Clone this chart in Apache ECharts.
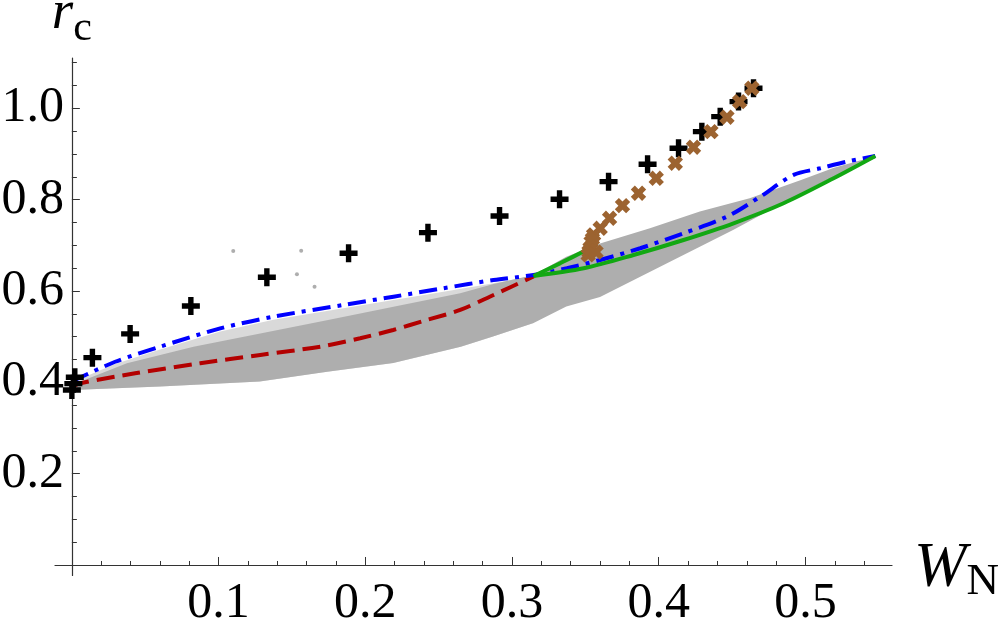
<!DOCTYPE html>
<html>
<head>
<meta charset="utf-8">
<script src="https://cdn.jsdelivr.net/npm/echarts@6/dist/echarts.min.js"></script>
<style>
  html, body { margin: 0; padding: 0; background: #fff; }
  #chart { width: 1000px; height: 621px; }
</style>
</head>
<body>
<div id="chart"></div>
<script>
// tick positions
const xMajorTicks = [0.1, 0.2, 0.3, 0.4, 0.5];
const xMinorTicks = [0.02, 0.04, 0.06, 0.08, 0.12, 0.14, 0.16, 0.18, 0.22, 0.24, 0.26, 0.28,
  0.32, 0.34, 0.36, 0.38, 0.42, 0.44, 0.46, 0.48, 0.52, 0.54];
const yMajorTicks = [0.2, 0.4, 0.6, 0.8, 1.0];
const yMinorTicks = [0.05, 0.1, 0.15, 0.25, 0.3, 0.35, 0.45, 0.5, 0.55, 0.65, 0.7, 0.75,
  0.85, 0.9, 0.95, 1.05, 1.1];

// black "+" markers
const plusPoints = [[0, 0.383], [0.001, 0.397], [0.002, 0.411], [0.014, 0.454], [0.0397, 0.506],
  [0.0811, 0.567], [0.1329, 0.630], [0.1886, 0.6825], [0.2427, 0.7276], [0.2915, 0.7642],
  [0.3324, 0.8007], [0.3658, 0.8393], [0.3924, 0.8774], [0.4135, 0.9124], [0.4294, 0.9488],
  [0.4419, 0.9816], [0.4544, 1.0145], [0.4646, 1.0438]];

// brown "x" markers
const crossPoints = [[0.3519, 0.679], [0.3525, 0.686], [0.3532, 0.694], [0.3573, 0.685],
  [0.3539, 0.707], [0.3548, 0.714], [0.3556, 0.7226], [0.3601, 0.7372], [0.3665, 0.7591],
  [0.3753, 0.7867], [0.3862, 0.8139], [0.3983, 0.8467], [0.4113, 0.8796], [0.4237, 0.9146],
  [0.4356, 0.9488], [0.4465, 0.9803], [0.4551, 1.0145], [0.4635, 1.0438]];

// curves
const redDashed = [[0, 0.390], [0.0057, 0.398], [0.0431, 0.4197], [0.0875, 0.4417], [0.1284, 0.4598],
  [0.1693, 0.478], [0.1965, 0.4964], [0.219, 0.5146], [0.242, 0.5365], [0.2647, 0.5584],
  [0.2874, 0.5912], [0.3147, 0.6317]];
const blueDashDot = [[0, 0.402], [0.0295, 0.445], [0.0602, 0.478], [0.1011, 0.518], [0.1374, 0.5437],
  [0.1851, 0.5693], [0.2192, 0.5875], [0.2533, 0.6059], [0.2874, 0.624], [0.3147, 0.635],
  [0.3374, 0.6497], [0.3601, 0.6678], [0.3874, 0.6935], [0.4169, 0.7263], [0.4465, 0.7627],
  [0.4692, 0.8064], [0.4919, 0.854], [0.5101, 0.8686], [0.5283, 0.8831], [0.5476, 0.8955]];
const greenUpper = [[0.3147, 0.6328], [0.333, 0.661], [0.351, 0.690]];
const greenLower = [[0.3147, 0.6328], [0.3488, 0.6497], [0.3828, 0.6788], [0.4169, 0.7116],
  [0.451, 0.7482], [0.4851, 0.792], [0.5192, 0.8467], [0.5476, 0.8955]];

// gray point cloud, outlined by its edges
const cloudLower = [[0, 0.383], [0.060, 0.391], [0.128, 0.402], [0.174, 0.423], [0.219, 0.442],
  [0.265, 0.478], [0.287, 0.500], [0.3147, 0.530], [0.337, 0.566], [0.360, 0.587], [0.383, 0.624],
  [0.406, 0.661], [0.428, 0.697], [0.451, 0.734], [0.474, 0.774], [0.497, 0.814], [0.519, 0.850],
  [0.548, 0.891]];
const cloudUpper = [[0, 0.394], [0.0375, 0.4417], [0.0829, 0.478], [0.1284, 0.507], [0.1738, 0.536],
  [0.2192, 0.5656], [0.2647, 0.595], [0.2874, 0.615], [0.3147, 0.635], [0.337, 0.675],
  [0.360, 0.704], [0.394, 0.737], [0.428, 0.774], [0.462, 0.803], [0.497, 0.843], [0.519, 0.869],
  [0.548, 0.8955]];
const sparseUpper = [[0, 0.40], [0.0295, 0.44], [0.0602, 0.472], [0.1011, 0.511], [0.1374, 0.537],
  [0.1851, 0.562], [0.2192, 0.580], [0.2533, 0.598], [0.2874, 0.617], [0.3147, 0.633]];
const strayDots = [[0.110, 0.6875], [0.1563, 0.688], [0.1534, 0.6366], [0.1654, 0.609]];

const xMin = -0.0115, xMax = 0.559, yMin = -0.023, yMax = 1.11;
const serif = '"Liberation Serif", "Times New Roman", serif';
const plusPath = 'path://M3.5,0H6.5V3.5H10V6.5H6.5V10H3.5V6.5H0V3.5H3.5Z';
const crossPath = 'path://M3.2,0H6.8V3.2H10V6.8H6.8V10H3.2V6.8H0V3.2H3.2Z';

let myChart = echarts.init(document.getElementById('chart'));

function band(top, bottom, color, z) {
  return {
    type: 'custom',
    data: [[0, 0]],
    z: z,
    silent: true,
    renderItem: function (params, api) {
      let pts = top.map(p => api.coord(p));
      let low = bottom.filter(p => p[0] <= top[top.length - 1][0] + 1e-9);
      pts = pts.concat(low.slice().reverse().map(p => api.coord(p)));
      return { type: 'polygon', shape: { points: pts }, style: { fill: color } };
    }
  };
}

function curve(data, color, dash, z) {
  return {
    type: 'line',
    data: data,
    symbol: 'none',
    smooth: 0.3,
    z: z,
    lineStyle: { color: color, width: 4, type: dash, cap: 'butt' }
  };
}

let axisColor = '#333';

let option = {
  animation: false,
  backgroundColor: '#fff',
  grid: { left: 55, right: 108, top: 58, bottom: 45.5, containLabel: false, outerBoundsMode: 'none' },
  xAxis: [
    {
      type: 'value', min: xMin, max: xMax, position: 'bottom',
      axisLine: { onZero: true, lineStyle: { color: axisColor, width: 1.2 } },
      axisTick: { inside: true, length: 8, customValues: xMajorTicks, lineStyle: { color: axisColor } },
      axisLabel: {
        customValues: xMajorTicks, formatter: v => v.toFixed(1),
        fontFamily: serif, fontSize: 50, color: '#000', margin: 3
      },
      splitLine: { show: false },
      name: '{w|W}{n|N}', nameLocation: 'end', nameGap: 22,
      nameTextStyle: {
        padding: [8, 0, 0, 0],
        rich: {
          w: { fontFamily: serif, fontStyle: 'italic', fontSize: 63, lineHeight: 63, color: '#000', verticalAlign: 'bottom' },
          n: { fontFamily: serif, fontSize: 45, lineHeight: 20, color: '#000', verticalAlign: 'top', padding: [22, 0, 0, 0] }
        }
      }
    },
    {
      type: 'value', min: xMin, max: xMax, position: 'bottom',
      axisLine: { show: false, onZero: true, onZeroAxisIndex: 0 },
      axisTick: { inside: true, length: 4, customValues: xMinorTicks, lineStyle: { color: axisColor } },
      axisLabel: { show: false },
      splitLine: { show: false }
    }
  ],
  yAxis: [
    {
      type: 'value', min: yMin, max: yMax, position: 'left',
      axisLine: { onZero: true, lineStyle: { color: axisColor, width: 1.2 } },
      axisTick: { inside: true, length: 8, customValues: yMajorTicks, lineStyle: { color: axisColor } },
      axisLabel: {
        customValues: yMajorTicks, formatter: v => v.toFixed(1),
        fontFamily: serif, fontSize: 50, color: '#000', margin: -9
      },
      splitLine: { show: false },
      name: '{r|r}{c|c}', nameLocation: 'end', nameGap: 17,
      nameTextStyle: {
        rich: {
          r: { fontFamily: serif, fontStyle: 'italic', fontSize: 55, lineHeight: 55, color: '#000', verticalAlign: 'bottom' },
          c: { fontFamily: serif, fontSize: 42, lineHeight: 20, color: '#000', verticalAlign: 'top', padding: [22, 0, 0, 0] }
        }
      }
    },
    {
      type: 'value', min: yMin, max: yMax, position: 'left',
      axisLine: { show: false, onZero: true, onZeroAxisIndex: 0 },
      axisTick: { inside: true, length: 5, customValues: yMinorTicks, lineStyle: { color: axisColor } },
      axisLabel: { show: false },
      splitLine: { show: false }
    }
  ],
  series: [
    band(sparseUpper, cloudLower, 'rgba(170,170,170,0.45)', 1),
    band(cloudUpper, cloudLower, '#aeaeae', 2),
    {
      type: 'scatter', data: strayDots, symbol: 'circle', symbolSize: 4, z: 3,
      itemStyle: { color: '#aeaeae', opacity: 1 }
    },
    curve(redDashed, '#b30000', [18, 8], 4),
    curve(blueDashDot, '#0000ff', [18, 7, 4, 7], 5),
    curve(greenUpper, '#12a812', 'solid', 6),
    curve(greenLower, '#12a812', 'solid', 6),
    {
      type: 'scatter', data: plusPoints, symbol: plusPath, symbolSize: 18, z: 7,
      itemStyle: { color: '#000', opacity: 1 }
    },
    {
      type: 'scatter', data: crossPoints, symbol: crossPath, symbolSize: 16, symbolRotate: 45, z: 8,
      itemStyle: { color: '#9c6330', opacity: 1 }
    }
  ]
};

myChart.setOption(option);
</script>
</body>
</html>
